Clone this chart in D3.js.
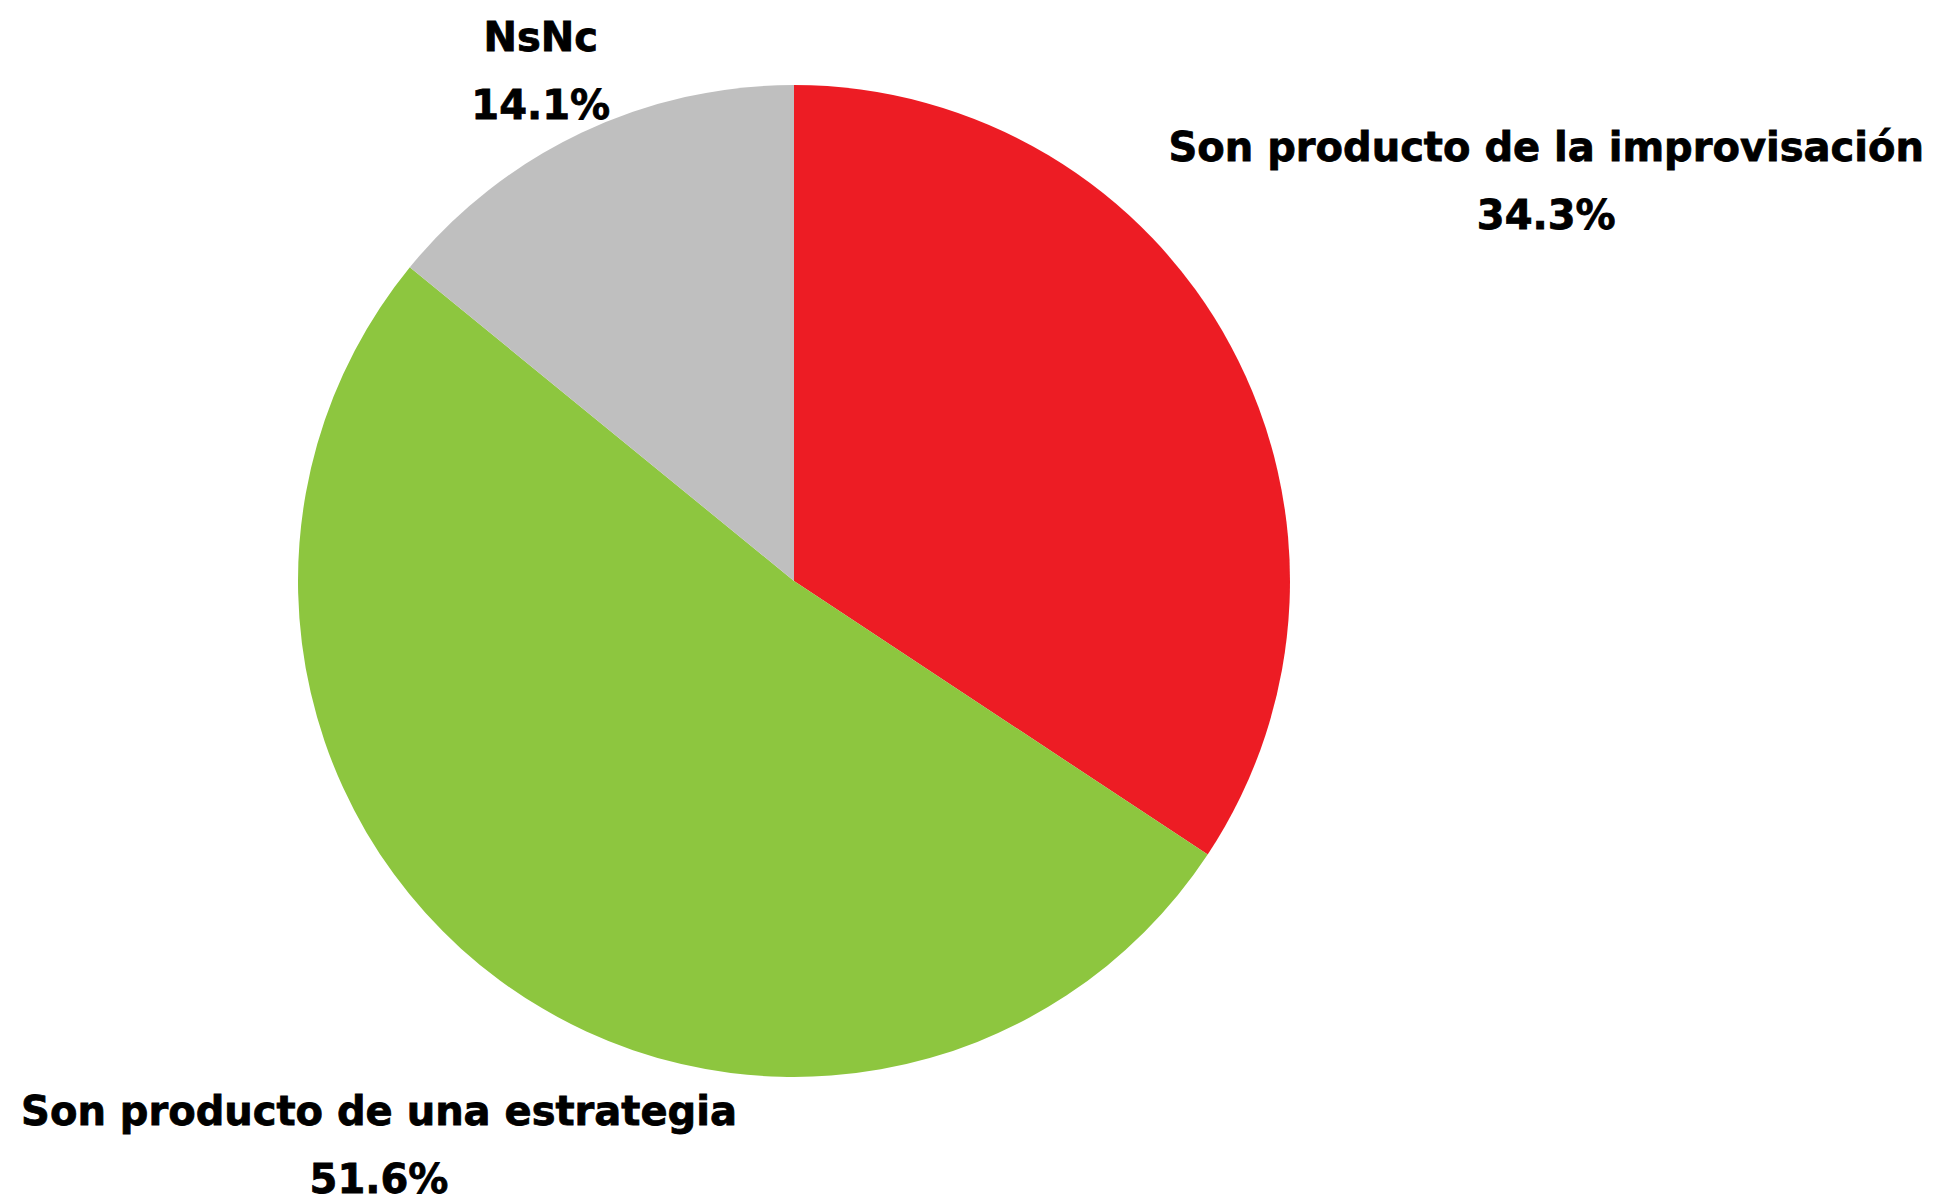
<!DOCTYPE html>
<html>
<head>
<meta charset="utf-8">
<script src="https://cdn.jsdelivr.net/npm/d3@7"></script>
<style>
  html, body { margin: 0; padding: 0; background: #fff; }
  svg { display: block; }
  .label { font-family: "DejaVu Sans", sans-serif; font-weight: 700; fill: #000; stroke: #000; stroke-width: 0.8px; }
</style>
</head>
<body>
<div id="chart"></div>
<script>
// Survey answer shares (percent), clockwise from 12 o'clock
const categories = ["Son producto de la improvisación", "Son producto de una estrategia", "NsNc"];
const shares = [34.3, 51.6, 14.1];
const colors = ["#ED1C24", "#8DC63F", "#BFBFBF"];

const width = 1944, height = 1204;
const cx = 794, cy = 581, radius = 496;
const fontSize = 40, lineGap = 68, labelPad = 14, topMargin = 14, bottomMargin = 2;

const data = categories.map((name, i) => ({ name, value: shares[i], color: colors[i] }));

const svg = d3.select("#chart").append("svg")
  .attr("width", width)
  .attr("height", height);

const g = svg.append("g").attr("transform", `translate(${cx},${cy})`);

const pie = d3.pie().sort(null).value(d => d.value);
const arc = d3.arc().innerRadius(0).outerRadius(radius);
const arcs = pie(data);

g.selectAll("path.slice")
  .data(arcs)
  .join("path")
  .attr("class", "slice")
  .attr("d", arc)
  .attr("fill", d => d.data.color);

// Labels: two lines, pushed out along the mid angle until the box clears the pie
const labels = g.selectAll("g.label")
  .data(arcs)
  .join("g")
  .attr("class", "label");

labels.append("text")
  .attr("text-anchor", "middle")
  .attr("font-size", fontSize)
  .attr("y", -lineGap / 2 + fontSize * 0.36)
  .text(d => d.data.name);

labels.append("text")
  .attr("text-anchor", "middle")
  .attr("font-size", fontSize)
  .attr("y", lineGap / 2 + fontSize * 0.36)
  .text(d => d3.format(".1f")(d.data.value) + "%");

labels.each(function (d) {
  const node = d3.select(this);
  const box = this.getBBox();
  const mid = (d.startAngle + d.endAngle) / 2;
  const ux = Math.sin(mid), uy = -Math.cos(mid);
  let k = 0;
  for (; k < 2000; k += 1) {
    const x0 = ux * k + box.x, x1 = x0 + box.width;
    const y0 = uy * k + box.y, y1 = y0 + box.height;
    const nx = Math.max(x0, Math.min(0, x1));
    const ny = Math.max(y0, Math.min(0, y1));
    if (Math.hypot(nx, ny) >= radius + labelPad) break;
  }
  let tx = ux * k, ty = uy * k + 4;
  // keep the label inside the chart area
  ty = Math.max(ty, -cy + topMargin - box.y);
  ty = Math.min(ty, height - cy - bottomMargin - (box.y + box.height));
  node.attr("transform", `translate(${tx},${ty})`);
});
</script>
</body>
</html>
